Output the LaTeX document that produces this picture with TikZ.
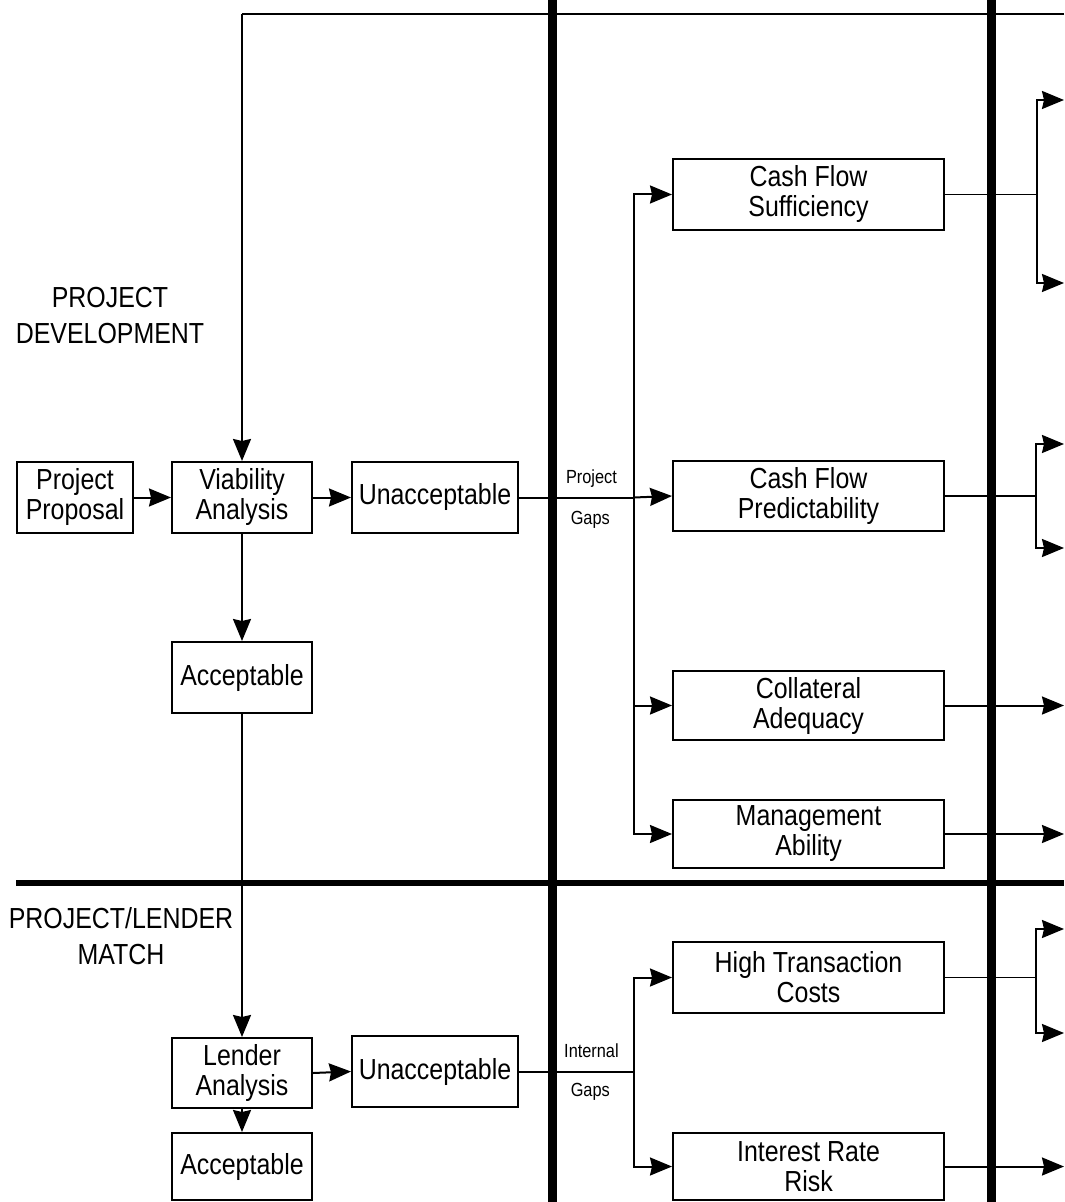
\documentclass[tikz,border=0pt]{standalone}
\usepackage{fontspec}
\setmainfont{Liberation Sans}[FakeStretch=0.86]
\usetikzlibrary{arrows.meta}

\begin{document}
\begin{tikzpicture}[x=0.5pt, y=-0.5pt,
        box/.style={draw, line width=1pt, align=center, inner sep=0pt, minimum height=35.5pt, font=\fontsize{14.5}{15}\selectfont},
        stepbox/.style={box, minimum width=70pt},
        unbox/.style={box, minimum width=83pt},
        gapbox/.style={box, minimum width=135.5pt},
        lane/.style={align=center, inner sep=0pt, font=\fontsize{14.5}{18}\selectfont},
        gaplbl/.style={inner sep=0pt, font=\fontsize{9.5}{11}\selectfont},
        wall/.style={line width=4.5pt},
        floor/.style={line width=3pt},
        thinline/.style={line width=0.6pt},
        line/.style={line width=1pt},
        arr/.style={line, -{Stealth[length=11pt, width=9pt, inset=1pt]}}
    ]
        \useasboundingbox (0,0) rectangle (1064,1202);

        % stage walls
        \coordinate (w1t) at (552,0);    \coordinate (w1b) at (552,1202);
        \coordinate (w2t) at (991,0);    \coordinate (w2b) at (991,1202);
        \coordinate (flL) at (16,883);   \coordinate (flR) at (1064,883);
        \draw[wall] (w1t) -- (w1b);
        \draw[wall] (w2t) -- (w2b);
        \draw[floor] (flL) -- (flR);

        % lane labels
        \node[lane] (devlbl)   at (110,316) {PROJECT\\DEVELOPMENT};
        \node[lane] (matchlbl) at (121,936) {PROJECT/LENDER\\MATCH};

        % left column
        \node[box, minimum width=58pt] (proposal) at (75,497.5)   {Project\\Proposal};
        \node[stepbox] (viability) at (242,497.5)  {Viability\\Analysis};
        \node[unbox]   (unaccA)    at (435,497.5)  {Unacceptable};
        \node[stepbox] (acceptA)   at (242,677.5)  {Acceptable};
        \node[stepbox, minimum height=35pt] (lender) at (242,1073) {Lender\\Analysis};
        \node[unbox]   (unaccB)    at (435,1071.5) {Unacceptable};
        \node[stepbox, minimum height=33.5pt] (acceptB) at (242,1166.5) {Acceptable};

        % gap boxes
        \node[gapbox]                      (cfs)    at (808.5,194.5)  {Cash Flow\\Sufficiency};
        \node[gapbox, minimum height=35pt] (cfp)    at (808.5,496)    {Cash Flow\\Predictability};
        \node[gapbox, minimum height=34.5pt] (collat) at (808.5,705.5) {Collateral\\Adequacy};
        \node[gapbox, minimum height=34pt] (mgmt)   at (808.5,834)    {Management\\Ability};
        \node[gapbox]                      (htc)    at (808.5,977.5)  {High Transaction\\Costs};
        \node[gapbox, minimum height=33.5pt] (irr)  at (808.5,1166.5) {Interest Rate\\Risk};

        % feedback loop over the top
        \coordinate (fbR) at (1064,14);
        \coordinate (fbL) at (242,14);
        \draw[thinline] (fbR) -- (fbL);
        \draw[arr] (fbL) -- (viability.north);

        % project development flow
        \draw[arr] (proposal.east) -- (viability.west);
        \draw[arr] (viability.east) -- (unaccA.west);
        \draw[arr] (viability.south) -- (acceptA.north);
        \draw[arr] (acceptA.south) -- (lender.north);

        % project gaps bus
        \coordinate (pj) at (634,497.5);
        \draw[line] (unaccA.east) -- node[gaplbl, pos=0.63, yshift=9.5pt] {Project}
                                     node[gaplbl, pos=0.62, yshift=-11pt] {Gaps} (pj);
        \draw[arr] (pj) |- (cfs.west);
        \draw[arr] (pj) -- (cfp.west);
        \draw[arr] (pj) |- (collat.west);
        \draw[arr] (pj) |- (mgmt.west);

        % lender match flow
        \draw[arr] (lender.east) -- (unaccB.west);
        \draw[arr] (lender.south) -- (acceptB.north);

        % internal gaps bus
        \coordinate (ij) at (634,1071.5);
        \draw[line] (unaccB.east) -- node[gaplbl, pos=0.63, yshift=10.5pt] {Internal}
                                     node[gaplbl, pos=0.62, yshift=-10pt] {Gaps} (ij);
        \draw[arr] (ij) |- (htc.west);
        \draw[arr] (ij) |- (irr.west);

        % outputs past the second wall
        \coordinate (cfsJ) at (1037,194.5);
        \coordinate (cfsT) at (1064,100);   \coordinate (cfsB) at (1064,283);
        \draw[thinline] (cfs.east) -- (cfsJ);
        \draw[arr] (cfsJ) |- (cfsT);
        \draw[arr] (cfsJ) |- (cfsB);

        \coordinate (cfpJ) at (1036,496);
        \coordinate (cfpT) at (1064,444);   \coordinate (cfpB) at (1064,548);
        \draw[thinline] (cfp.east) -- (cfpJ);
        \draw[arr] (cfpJ) |- (cfpT);
        \draw[arr] (cfpJ) |- (cfpB);

        \coordinate (colE) at (1064,705.5);
        \draw[arr] (collat.east) -- (colE);
        \coordinate (mgmE) at (1064,834);
        \draw[arr] (mgmt.east) -- (mgmE);

        \coordinate (htcJ) at (1036,977.5);
        \coordinate (htcT) at (1064,929);   \coordinate (htcB) at (1064,1033);
        \draw[thinline] (htc.east) -- (htcJ);
        \draw[arr] (htcJ) |- (htcT);
        \draw[arr] (htcJ) |- (htcB);

        \coordinate (irrE) at (1064,1166.5);
        \draw[arr] (irr.east) -- (irrE);
    \end{tikzpicture}
\end{document}
